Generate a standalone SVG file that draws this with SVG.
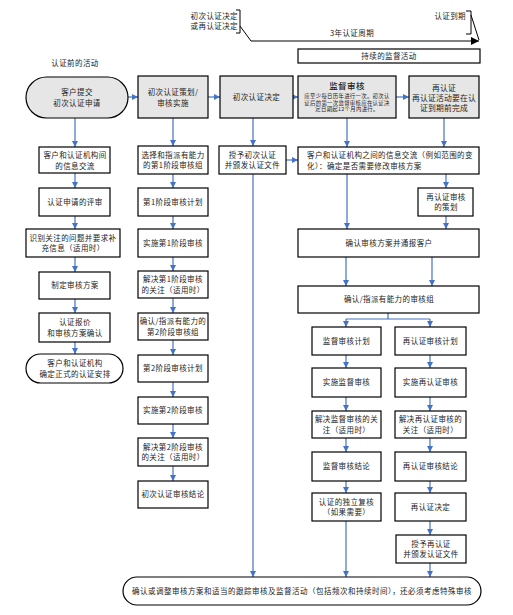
<svg xmlns="http://www.w3.org/2000/svg" width="513" height="615" viewBox="0 0 513 615">
<style>
.box{fill:#fff;stroke:#000;stroke-width:1.2}
.gbox{fill:#e6e6e6;stroke:#000;stroke-width:1.2}
.t{font-family:"Noto Sans CJK SC","Liberation Sans",sans-serif;font-size:7.5px;fill:#222;text-anchor:middle;letter-spacing:0.4px}
.s{font-size:5.4px;letter-spacing:0.3px}
.h{font-size:8.5px;font-weight:500}
.r{font-size:7.8px;letter-spacing:0.2px}
.l{text-anchor:start}
.e{text-anchor:end}
.arr{stroke:#4472c4;stroke-width:1.2;fill:none;marker-end:url(#a)}
.ln{stroke:#4472c4;stroke-width:1.2;fill:none}
.k{stroke:#000;stroke-width:1;fill:none}
</style>
<defs>
<marker id="a" markerUnits="userSpaceOnUse" markerWidth="6" markerHeight="6" refX="6" refY="3" orient="auto"><path d="M0,0 L6,3 L0,6 z" fill="#4472c4"/></marker>
<marker id="b" markerUnits="userSpaceOnUse" markerWidth="8" markerHeight="8" refX="8" refY="4" orient="auto"><path d="M0,0 L8,4 L0,8 z" fill="#000"/></marker>
</defs>
<rect width="513" height="615" fill="#fff"/>

<g id="timeline">
<path class="k" d="M236,10 H240 V33 H236"/>
<path class="k" d="M240,26 L251,41"/>
<path class="k" d="M251,41 H479" marker-end="url(#b)"/>
<path class="k" d="M466,11 H471 V34 H466"/>
<path class="k" d="M471,15 L479,40"/>
<text class="t e" x="238" y="19">初次认证决定</text>
<text class="t e" x="238" y="29">或再认证决定</text>
<text class="t e" x="466" y="19">认证到期</text>
<text class="t" x="352" y="36">3年认证周期</text>
</g>
<g id="ongoing"><rect class="box" x="298" y="49" width="182" height="14"/><text class="t" x="389" y="59">持续的监督活动</text></g>
<text class="t" x="75" y="66">认证前的活动</text>

<g id="connectors">
<path class="arr" d="M75,118 V147"/>
<path class="arr" d="M75,173 V188"/>
<path class="arr" d="M75,216 V229"/>
<path class="arr" d="M75,257 V272"/>
<path class="arr" d="M75,299 V313"/>
<path class="arr" d="M75,342 V354"/>
<path class="arr" d="M128,97 H138"/>
<path class="arr" d="M208,97 H220"/>
<path class="arr" d="M293,97 H298"/>
<path class="arr" d="M396,97 H409"/>
<path class="arr" d="M173,118 V146"/>
<path class="arr" d="M173,174 V188"/>
<path class="arr" d="M173,216 V229"/>
<path class="arr" d="M173,257 V271"/>
<path class="arr" d="M173,298 V313"/>
<path class="arr" d="M173,340 V355"/>
<path class="arr" d="M173,382 V397"/>
<path class="arr" d="M173,424 V438"/>
<path class="arr" d="M173,466 V481"/>
<path class="arr" d="M253,118 V146"/>
<path class="arr" d="M286,160 H298"/>
<path class="arr" d="M253,174 V577"/>
<path class="arr" d="M347,118 V147"/>
<path class="arr" d="M444,118 V147"/>
<path class="arr" d="M347,174 V229"/>
<path class="arr" d="M446,174 V188"/>
<path class="arr" d="M446,216 V229"/>
<path class="arr" d="M346,257 V286"/>
<path class="arr" d="M432,257 V286"/>
<path class="ln" d="M388,313 V319 M346,319 H430"/>
<path class="arr" d="M346,319 V327"/>
<path class="arr" d="M430,319 V327"/>
<path class="arr" d="M346,355 V368"/>
<path class="arr" d="M430,355 V368"/>
<path class="arr" d="M346,397 V411"/>
<path class="arr" d="M430,397 V411"/>
<path class="arr" d="M346,438 V452"/>
<path class="arr" d="M430,438 V452"/>
<path class="arr" d="M346,481 V493"/>
<path class="arr" d="M430,481 V493"/>
<path class="arr" d="M346,521 V577"/>
<path class="arr" d="M430,521 V535"/>
<path class="arr" d="M430,563 V577"/>
</g>

<g id="n_apply"><rect class="gbox" x="26" y="77" width="102" height="41" rx="20.5"/><text class="t" x="77" y="95">客户提交</text><text class="t" x="77" y="106">初次认证申请</text></g>
<g id="n_info1"><rect class="box" x="39" y="147" width="71" height="26"/><text class="t" x="75" y="158">客户和认证机构间</text><text class="t" x="75" y="168.5">的信息交流</text></g>
<g id="n_review"><rect class="box" x="39" y="188" width="71" height="28"/><text class="t" x="75" y="204.5">认证申请的评审</text></g>
<g id="n_identify"><rect class="box" x="26" y="229" width="94" height="28"/><text class="t" x="73" y="240.5">识别关注的问题并要求补</text><text class="t" x="73" y="251">充信息（适用时）</text></g>
<g id="n_program"><rect class="box" x="39" y="272" width="71" height="27"/><text class="t" x="75" y="288">制定审核方案</text></g>
<g id="n_quote"><rect class="box" x="39" y="313" width="71" height="29"/><text class="t" x="75" y="324.5">认证报价</text><text class="t" x="75" y="335.5">和审核方案确认</text></g>
<g id="n_arrange"><rect class="box" x="26" y="354" width="97" height="29" rx="14.5"/><text class="t" x="75" y="366">客户和认证机构</text><text class="t" x="75" y="377">确定正式的认证安排</text></g>

<g id="n_initplan"><rect class="gbox" x="138" y="76" width="70" height="42"/><text class="t" x="173" y="95">初次认证策划/</text><text class="t" x="173" y="106">审核实施</text></g>
<g id="n_s1team"><rect class="box" x="138" y="146" width="70" height="28"/><text class="t" x="173" y="157.5">选择和指派有能力</text><text class="t" x="173" y="168">的第1阶段审核组</text></g>
<g id="n_s1plan"><rect class="box" x="138" y="188" width="70" height="28"/><text class="t" x="173" y="204.5">第1阶段审核计划</text></g>
<g id="n_s1do"><rect class="box" x="138" y="229" width="70" height="28"/><text class="t" x="173" y="245.5">实施第1阶段审核</text></g>
<g id="n_s1fix"><rect class="box" x="138" y="271" width="70" height="27"/><text class="t" x="173" y="282">解决第1阶段审核</text><text class="t" x="173" y="292.5">的关注（适用时）</text></g>
<g id="n_s2team"><rect class="box" x="138" y="313" width="70" height="27"/><text class="t" x="173" y="324">确认/指派有能力的</text><text class="t" x="173" y="334.5">第2阶段审核组</text></g>
<g id="n_s2plan"><rect class="box" x="138" y="355" width="70" height="27"/><text class="t" x="173" y="371">第2阶段审核计划</text></g>
<g id="n_s2do"><rect class="box" x="138" y="397" width="70" height="27"/><text class="t" x="173" y="413">实施第2阶段审核</text></g>
<g id="n_s2fix"><rect class="box" x="138" y="438" width="70" height="28"/><text class="t" x="173" y="449.5">解决第2阶段审核</text><text class="t" x="173" y="460">的关注（适用时）</text></g>
<g id="n_initconc"><rect class="box" x="138" y="481" width="70" height="27"/><text class="t" x="173" y="497">初次认证审核结论</text></g>

<g id="n_initdec"><rect class="gbox" x="220" y="76" width="73" height="42"/><text class="t" x="256.5" y="100">初次认证决定</text></g>
<g id="n_grant"><rect class="box" x="219" y="146" width="67" height="28"/><text class="t" x="252.5" y="157.5">授予初次认证</text><text class="t" x="252.5" y="168">并颁发认证文件</text></g>

<g id="n_surv"><rect class="gbox" x="298" y="76" width="98" height="42"/><text class="t h" x="347" y="89">监督审核</text><text class="t s" x="347" y="98">应至少每日历年进行一次。初次认</text><text class="t s" x="347" y="104.5">证后的第一次监督审核应在认证决</text><text class="t s" x="347" y="111">定日期起12个月内进行。</text></g>
<g id="n_recert"><rect class="gbox" x="409" y="76" width="70" height="42"/><text class="t r" x="444" y="91">再认证</text><text class="t r" x="444" y="101">再认证活动要在认</text><text class="t r" x="444" y="111">证到期前完成</text></g>
<g id="n_info2"><rect class="box" x="298" y="147" width="181" height="27"/><text class="t l" x="307" y="158">客户和认证机构之间的信息交流（例如范围的变</text><text class="t l" x="307" y="168.5">化）：确定是否需要修改审核方案</text></g>
<g id="n_rplanning"><rect class="box" x="418" y="188" width="55" height="28"/><text class="t" x="446" y="199.5">再认证审核</text><text class="t" x="446" y="210">的策划</text></g>
<g id="n_confirm"><rect class="box" x="298" y="229" width="181" height="28"/><text class="t" x="389" y="245.5">确认审核方案并通报客户</text></g>
<g id="n_team"><rect class="box" x="298" y="286" width="181" height="27"/><text class="t" x="389" y="302">确认/指派有能力的审核组</text></g>
<g id="n_svplan"><rect class="box" x="312" y="327" width="69" height="28"/><text class="t" x="346.5" y="343.5">监督审核计划</text></g>
<g id="n_rcplan"><rect class="box" x="395" y="327" width="71" height="28"/><text class="t" x="430.5" y="343.5">再认证审核计划</text></g>
<g id="n_svdo"><rect class="box" x="312" y="368" width="69" height="29"/><text class="t" x="346.5" y="385">实施监督审核</text></g>
<g id="n_rcdo"><rect class="box" x="395" y="368" width="71" height="29"/><text class="t" x="430.5" y="385">实施再认证审核</text></g>
<g id="n_svfix"><rect class="box" x="312" y="411" width="69" height="27"/><text class="t" x="346.5" y="422">解决监督审核的关</text><text class="t" x="346.5" y="432.5">注（适用时）</text></g>
<g id="n_rcfix"><rect class="box" x="395" y="411" width="71" height="27"/><text class="t" x="430.5" y="422">解决再认证审核的</text><text class="t" x="430.5" y="432.5">关注（适用时）</text></g>
<g id="n_svconc"><rect class="box" x="312" y="452" width="69" height="29"/><text class="t" x="346.5" y="469">监督审核结论</text></g>
<g id="n_rcconc"><rect class="box" x="395" y="452" width="71" height="29"/><text class="t" x="430.5" y="469">再认证审核结论</text></g>
<g id="n_indep"><rect class="box" x="312" y="493" width="69" height="28"/><text class="t" x="346.5" y="504.5">认证的独立复核</text><text class="t" x="346.5" y="515">（如果需要）</text></g>
<g id="n_rcdec"><rect class="box" x="395" y="493" width="71" height="28"/><text class="t" x="430.5" y="509.5">再认证决定</text></g>
<g id="n_rcgrant"><rect class="box" x="396" y="535" width="70" height="28"/><text class="t" x="431" y="546.5">授予再认证</text><text class="t" x="431" y="557">并颁发认证文件</text></g>

<g id="n_adjust"><rect class="box" x="123" y="577" width="358" height="28" rx="14"/><text class="t" x="302" y="593.5" textLength="340" lengthAdjust="spacing">确认或调整审核方案和适当的跟踪审核及监督活动（包括频次和持续时间），还必须考虑特殊审核</text></g>
</svg>
